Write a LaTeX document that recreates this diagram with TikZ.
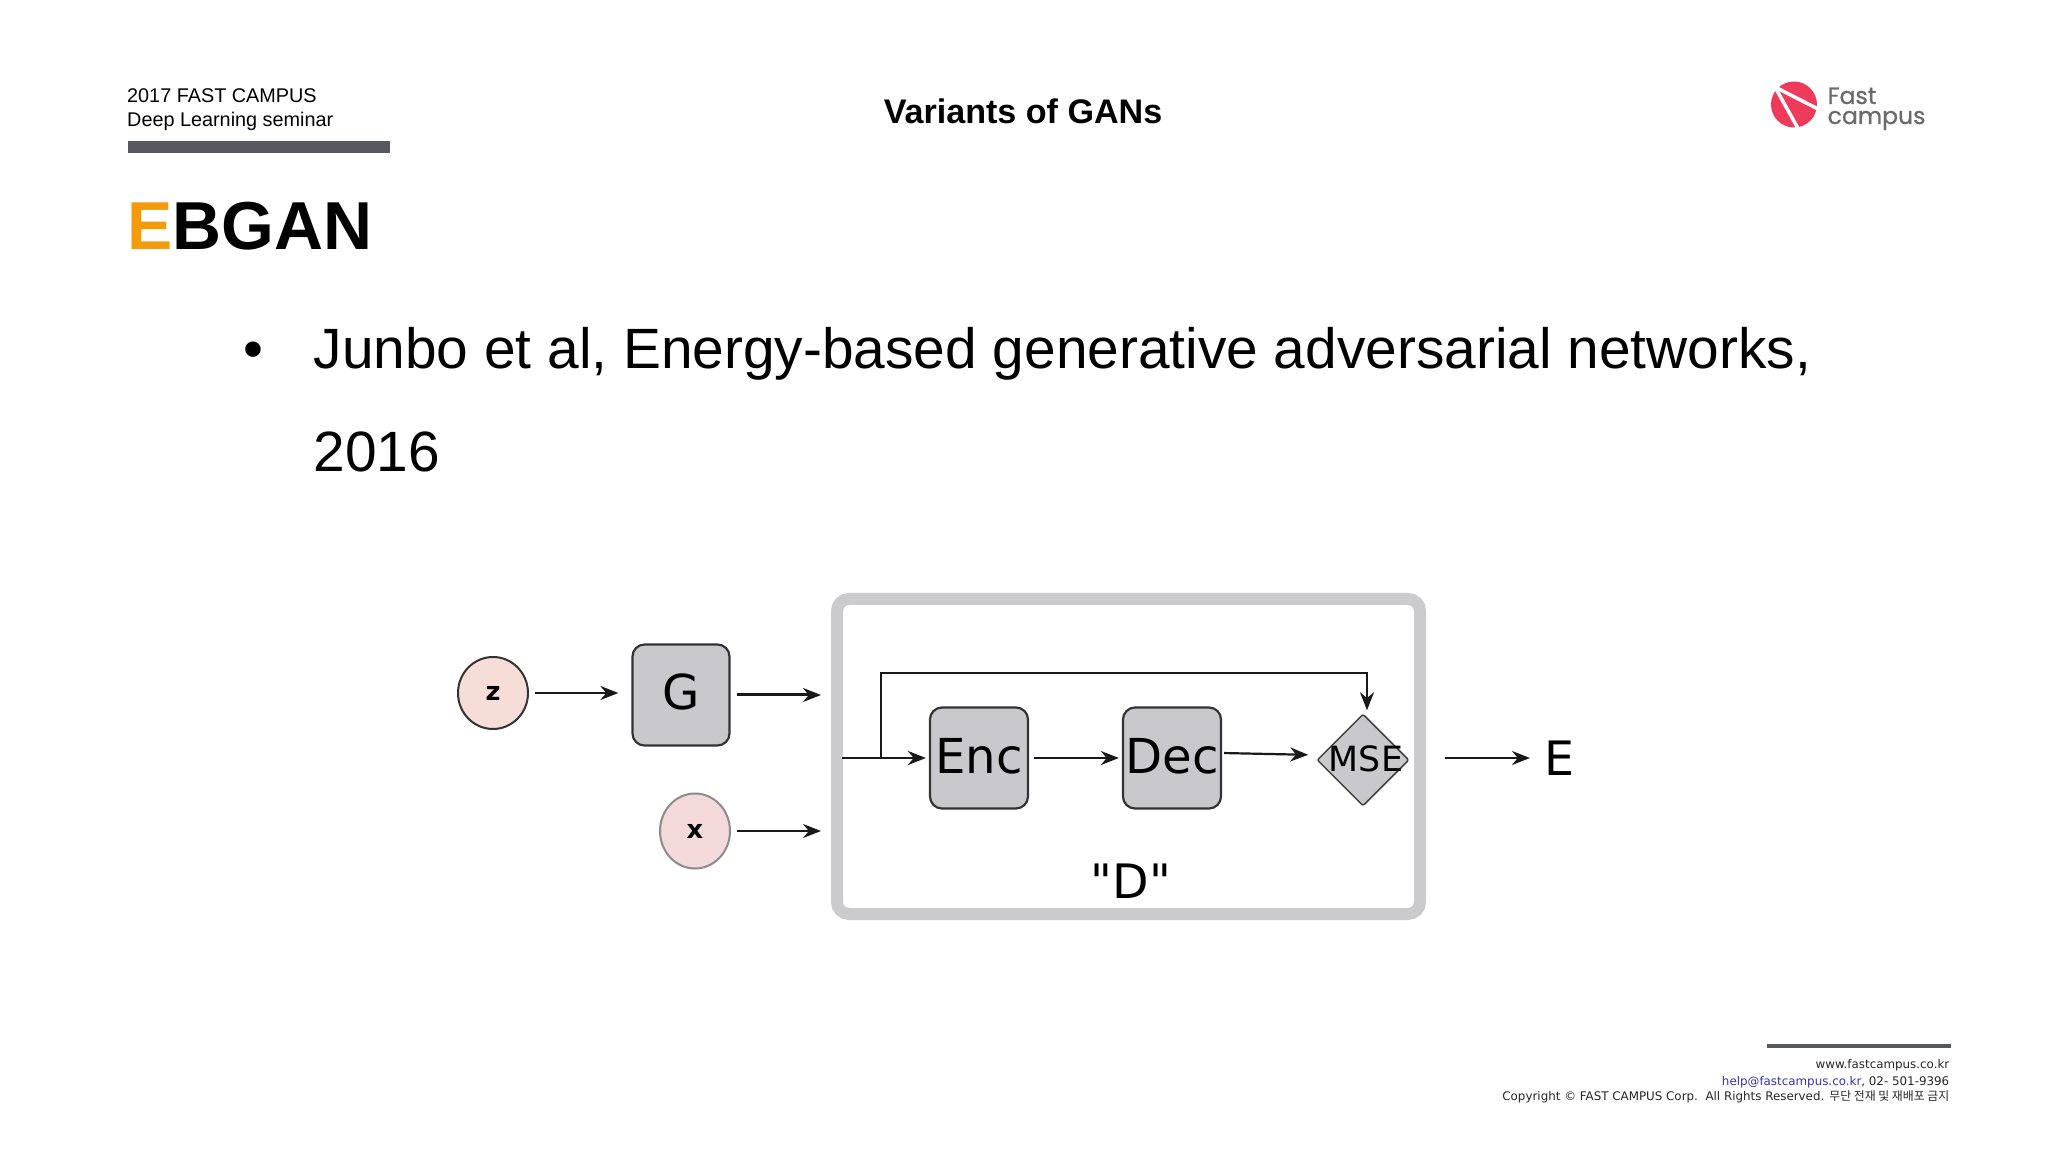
\documentclass[tikz,border=0pt]{standalone}
\usepackage{fontspec}
\setmainfont{Liberation Sans}
\newfontfamily\dejavu{DejaVu Sans}
\newfontfamily\poppins[FakeBold=0.8]{Poppins}
\newfontfamily\cjkkr{Noto Sans CJK KR}
\usetikzlibrary{positioning,calc,arrows.meta,shapes.geometric}
\definecolor{barcol}{HTML}{565A5E}
\definecolor{orangeE}{HTML}{F59A0B}
\definecolor{logored}{HTML}{EE3B5B}
\definecolor{logogray}{HTML}{6A6A6A}
\definecolor{linkblue}{HTML}{3A2FB5}
\definecolor{framegray}{HTML}{CBCACD}
\definecolor{boxgray}{HTML}{C9C8CC}
\definecolor{zpink}{HTML}{F6DDD8}
\definecolor{xpink}{HTML}{F3D9D9}

\begin{document}
\begin{tikzpicture}
    \tikzset{x=1cm,y=1cm,every path/.style={>={Stealth[length=0.18cm,width=0.14cm]}},
      txt/.style={inner sep=0pt,anchor=base west},
      foot/.style={inner sep=0pt,anchor=base east,font=\dejavu\fontsize{3.38}{4}\selectfont,text=black!85},
      latent/.style={ellipse,inner sep=0pt,minimum width=0.7cm,minimum height=0.72cm,line width=0.02cm,font=\dejavu\bfseries\fontsize{7.3}{8}\selectfont},
      block/.style={rectangle,rounded corners=0.12cm,draw=black!80,fill=boxgray,line width=0.022cm,minimum height=1.01cm,inner sep=0pt,text height=0.35cm,text depth=0.05cm,font=\dejavu\fontsize{13.7}{15}\selectfont},
      flow/.style={->,line width=0.022cm,black!90},
      bigtxt/.style={inner sep=0pt,font=\dejavu\fontsize{13.5}{15}\selectfont}}
    \useasboundingbox (0,-11.52) rectangle (20.48,0);
    % header
    \node [txt,font=\fontsize{5.64}{7}\selectfont] (seminarA) at (1.265,-1.03) {2017 FAST CAMPUS};
    \node [txt,font=\fontsize{5.64}{7}\selectfont] (seminarB) at (1.265,-1.27) {Deep Learning seminar};
    \fill [barcol] (1.28,-1.41) rectangle (3.90,-1.53);
    \node [inner sep=0pt,anchor=base,font=\bfseries\fontsize{9.7}{11}\selectfont] (title) at (10.23,-1.24) {Variants of GANs};
    \node [txt,font=\bfseries\fontsize{19.3}{22}\selectfont] (heading) at (1.265,-2.50) {\textcolor{orangeE}{E}BGAN};
    % logo
    \fill [logored] (17.94,-1.045) circle (0.23);
    \draw [white,line width=0.035cm] (17.75,-0.87) -- (18.20,-1.10);
    \draw [white,line width=0.035cm] (17.75,-0.87) -- (18.00,-1.32);
    \node [txt,text=logogray,font=\poppins\fontsize{6.7}{8}\selectfont] (logoA) at (18.27,-1.04) {Fast};
    \node [txt,text=logogray,font=\poppins\fontsize{6.7}{8}\selectfont] (logoB) at (18.27,-1.24) {campus};
    % bullet text
    \node [txt,font=\fontsize{16.17}{19}\selectfont] (bullet) at (2.43,-3.685) {•};
    \node [txt,font=\fontsize{16.17}{19}\selectfont] (lineA) at (3.13,-3.685) {Junbo et al, Energy-based generative adversarial networks,};
    \node [txt,font=\fontsize{16.17}{19}\selectfont] (lineB) at (3.13,-4.715) {2016};
    % diagram
    \node [draw=framegray,line width=0.12cm,rounded corners=0.12cm,outer sep=0pt,inner sep=0pt,minimum width=5.83cm,minimum height=3.15cm] (D) at (11.285,-7.565) {};
    \node [latent,draw=black!80,fill=zpink] (z) at (4.93,-6.93) {z};
    \node [latent,draw=black!45,fill=xpink,minimum height=0.75cm] (x) at (6.95,-8.31) {x};
    \node [block,minimum width=0.97cm] (G) at (6.81,-6.95) {G};
    \node [block,minimum width=0.98cm] (Enc) at (9.79,-7.58) {Enc};
    \node [block,minimum width=0.98cm] (Dec) at (11.72,-7.58) {Dec};
    \node [diamond,aspect=1,rounded corners=0.02cm,draw=black!75,fill=boxgray,line width=0.015cm,inner sep=0pt,minimum width=0.92cm,minimum height=0.92cm,
      label={[inner sep=0pt,xshift=0.03cm,yshift=0.01cm,font=\dejavu\fontsize{9.9}{11}\selectfont]center:MSE}] (MSE) at (13.63,-7.60) {};
    \node [bigtxt] (Dlabel) at (11.31,-8.81) {"D"};
    \node [bigtxt,anchor=west] (E) at (15.44,-7.58) {E};
    \coordinate (tap) at (8.81,-7.58);
    \coordinate (top) at (8.81,-6.73);
    \draw[flow,shorten <=0.06cm,shorten >=0.13cm] (z) -- (z -| G.west);
    \draw[flow,line width=0.03cm,shorten <=0.06cm,shorten >=0.16cm] (G) -- (G -| D.west);
    \draw[flow,shorten <=0.06cm,shorten >=0.16cm] (x) -- (x -| D.west);
    \draw[flow,line width=0.028cm,shorten <=0.05cm,shorten >=0.03cm] (D.west |- Enc) -- (Enc);
    \draw[flow] (tap) -- (top) -| ([xshift=0.04cm,yshift=0.03cm]MSE.north);
    \draw[flow,shorten <=0.05cm,shorten >=0.03cm] (Enc) -- (Dec);
    \draw[flow,shorten <=0.02cm,shorten >=0.08cm] ([yshift=0.05cm]Dec.east) -- ([yshift=0.05cm]MSE.west);
    \draw[flow,shorten <=0.25cm,shorten >=0.14cm] (D.east |- E) -- (E);
    % footer
    \fill [barcol] (17.67,-10.44) rectangle (19.51,-10.48);
    \node [foot] (web) at (19.50,-10.68) {www.fastcampus.co.kr};
    \node [foot] (mail) at (19.50,-10.85) {\textcolor{linkblue}{help@fastcampus.co.kr}, 02- 501-9396};
    \node [foot] (copy) at (19.50,-11.00) {Copyright © FAST CAMPUS Corp.\ \ All Rights Reserved. {\cjkkr 무단 전재 및 재배포 금지}};
\end{tikzpicture}
\end{document}
